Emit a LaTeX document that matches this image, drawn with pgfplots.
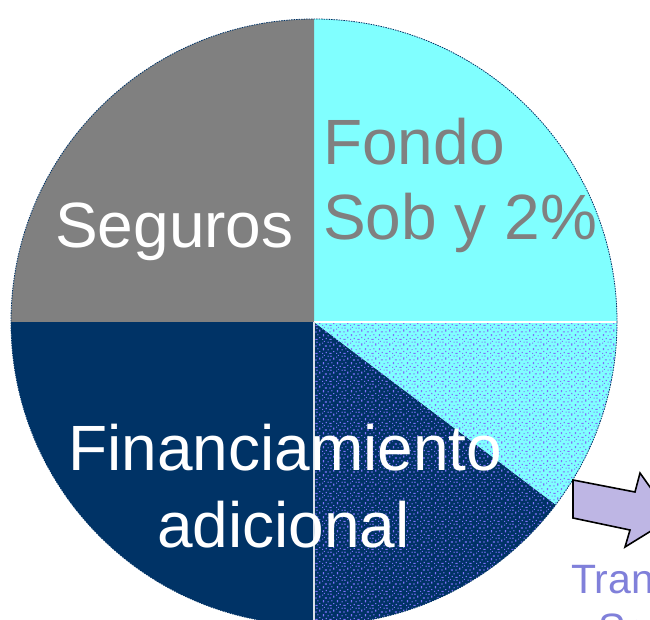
\documentclass[border=0pt]{standalone}
\usepackage{pgfplots}
\pgfplotsset{compat=1.18}
\usepackage{fontspec}
\setmainfont{Liberation Sans}
\usetikzlibrary{patterns.meta}
\definecolor{segGray}{RGB}{128,128,128}
\definecolor{segCyan}{RGB}{128,255,255}
\definecolor{segNavy}{RGB}{0,51,102}
\definecolor{speck}{RGB}{125,112,250}
\definecolor{arrowFill}{RGB}{190,182,228}
\definecolor{tranText}{RGB}{128,128,218}
\tikzdeclarepattern{
  name=speckle,
  type=uncolored,
  bounding box={(0,0) and (14bp,14bp)},
  tile size={(14bp,14bp)},
  code={
    \fill (0bp,0bp) rectangle ++(1.2bp,1.2bp);
    \fill (4bp,1bp) rectangle ++(1.2bp,1.2bp);
    \fill (8bp,0bp) rectangle ++(2.2bp,1.2bp);
    \fill (12bp,2bp) rectangle ++(1.2bp,1.2bp);
    \fill (1bp,4bp) rectangle ++(1.2bp,2.2bp);
    \fill (6bp,4bp) rectangle ++(1.2bp,1.2bp);
    \fill (10bp,5bp) rectangle ++(1.2bp,1.2bp);
    \fill (3bp,8bp) rectangle ++(2.2bp,1.2bp);
    \fill (8bp,8bp) rectangle ++(1.2bp,1.2bp);
    \fill (12bp,9bp) rectangle ++(1.2bp,2.2bp);
    \fill (0bp,11bp) rectangle ++(1.2bp,1.2bp);
    \fill (6bp,12bp) rectangle ++(1.2bp,1.2bp);
    \fill (9bp,12bp) rectangle ++(1.2bp,1.2bp);
    \fill (2bp,13bp) rectangle ++(1.2bp,1bp);
  }
}
% slice values (percent of the pie)
\def\vFondo{25}
\def\vSeguros{25}
\def\vFin{25}
\def\vFinSpk{14.7}
\def\vFondoSpk{10.3}
\begin{document}
\begin{tikzpicture}
\pgfmathsetmacro{\aA}{0}
\pgfmathsetmacro{\aB}{\aA+3.6*\vFondo}
\pgfmathsetmacro{\aC}{\aB+3.6*\vSeguros}
\pgfmathsetmacro{\aD}{\aC+3.6*\vFin}
\pgfmathsetmacro{\aE}{\aD+3.6*\vFinSpk}
\pgfmathsetmacro{\aF}{\aE+3.6*\vFondoSpk}
\begin{axis}[
  scale only axis, width=650bp, height=619bp,
  xmin=0, xmax=650, ymin=0, ymax=619,
  hide axis, clip=false]
\def\R{303bp}
\coordinate (c) at (axis cs:314,297);
% Fondo
\fill[segCyan] (c) -- ++(\aA:\R) arc[start angle=\aA, end angle=\aB, radius=\R] -- cycle;
% Seguros
\fill[segGray] (c) -- ++(\aB:\R) arc[start angle=\aB, end angle=\aC, radius=\R] -- cycle;
% Financiamiento
\fill[segNavy] (c) -- ++(\aC:\R) arc[start angle=\aC, end angle=\aD, radius=\R] -- cycle;
% speckled navy
\fill[segNavy] (c) -- ++(\aD:\R) arc[start angle=\aD, end angle=\aE, radius=\R] -- cycle;
\fill[pattern=speckle, pattern color=speck] (c) -- ++(\aD:\R) arc[start angle=\aD, end angle=\aE, radius=\R] -- cycle;
% speckled cyan
\fill[segCyan] (c) -- ++(\aE:\R) arc[start angle=\aE, end angle=\aF, radius=\R] -- cycle;
\fill[pattern=speckle, pattern color=speck] (c) -- ++(\aE:\R) arc[start angle=\aE, end angle=\aF, radius=\R] -- cycle;
% separators
\draw[white, line width=1.3bp] (c) -- ++(0:\R);
\draw[white!85!segNavy, line width=1.2bp] (c) -- ++(270:\R);
% outline
\draw[segNavy, line width=0.8bp, dash pattern=on 1.5bp off 1bp] (c) circle[radius=\R];
% labels
\node[anchor=base west, inner sep=0, text=white, font=\fontsize{64bp}{76bp}\selectfont] at (axis cs:55,371) {Seguros};
\node[anchor=base west, inner sep=0, text=segGray, font=\fontsize{64bp}{76bp}\selectfont] at (axis cs:323,454) {Fondo};
\node[anchor=base west, inner sep=0, text=segGray, font=\fontsize{64bp}{76bp}\selectfont] at (axis cs:323,379) {Sob y 2\%};
\node[anchor=base west, inner sep=0, text=white, font=\fontsize{64bp}{76bp}\selectfont] at (axis cs:68,149) {Financiamiento};
\node[anchor=base west, inner sep=0, text=white, font=\fontsize{64bp}{76bp}\selectfont] at (axis cs:157,72) {adicional};
% arrow
\draw[black, line width=1.6bp, fill=arrowFill, line join=miter]
  (axis cs:573,139) -- (axis cs:635,127) -- (axis cs:640,146) -- (axis cs:672,101)
  -- (axis cs:625,72) -- (axis cs:630,89) -- (axis cs:573,101) -- cycle;
\node[anchor=base west, inner sep=0, text=tranText, font=\fontsize{41bp}{49bp}\selectfont] at (axis cs:571,26) {Transferencias};
\node[anchor=base west, inner sep=0, text=tranText, font=\fontsize{41bp}{49bp}\selectfont] at (axis cs:598,-23) {Seguro};
\end{axis}
\pgfresetboundingbox
\path[use as bounding box] (current axis.south west) rectangle (current axis.north east);
\end{tikzpicture}
\end{document}
